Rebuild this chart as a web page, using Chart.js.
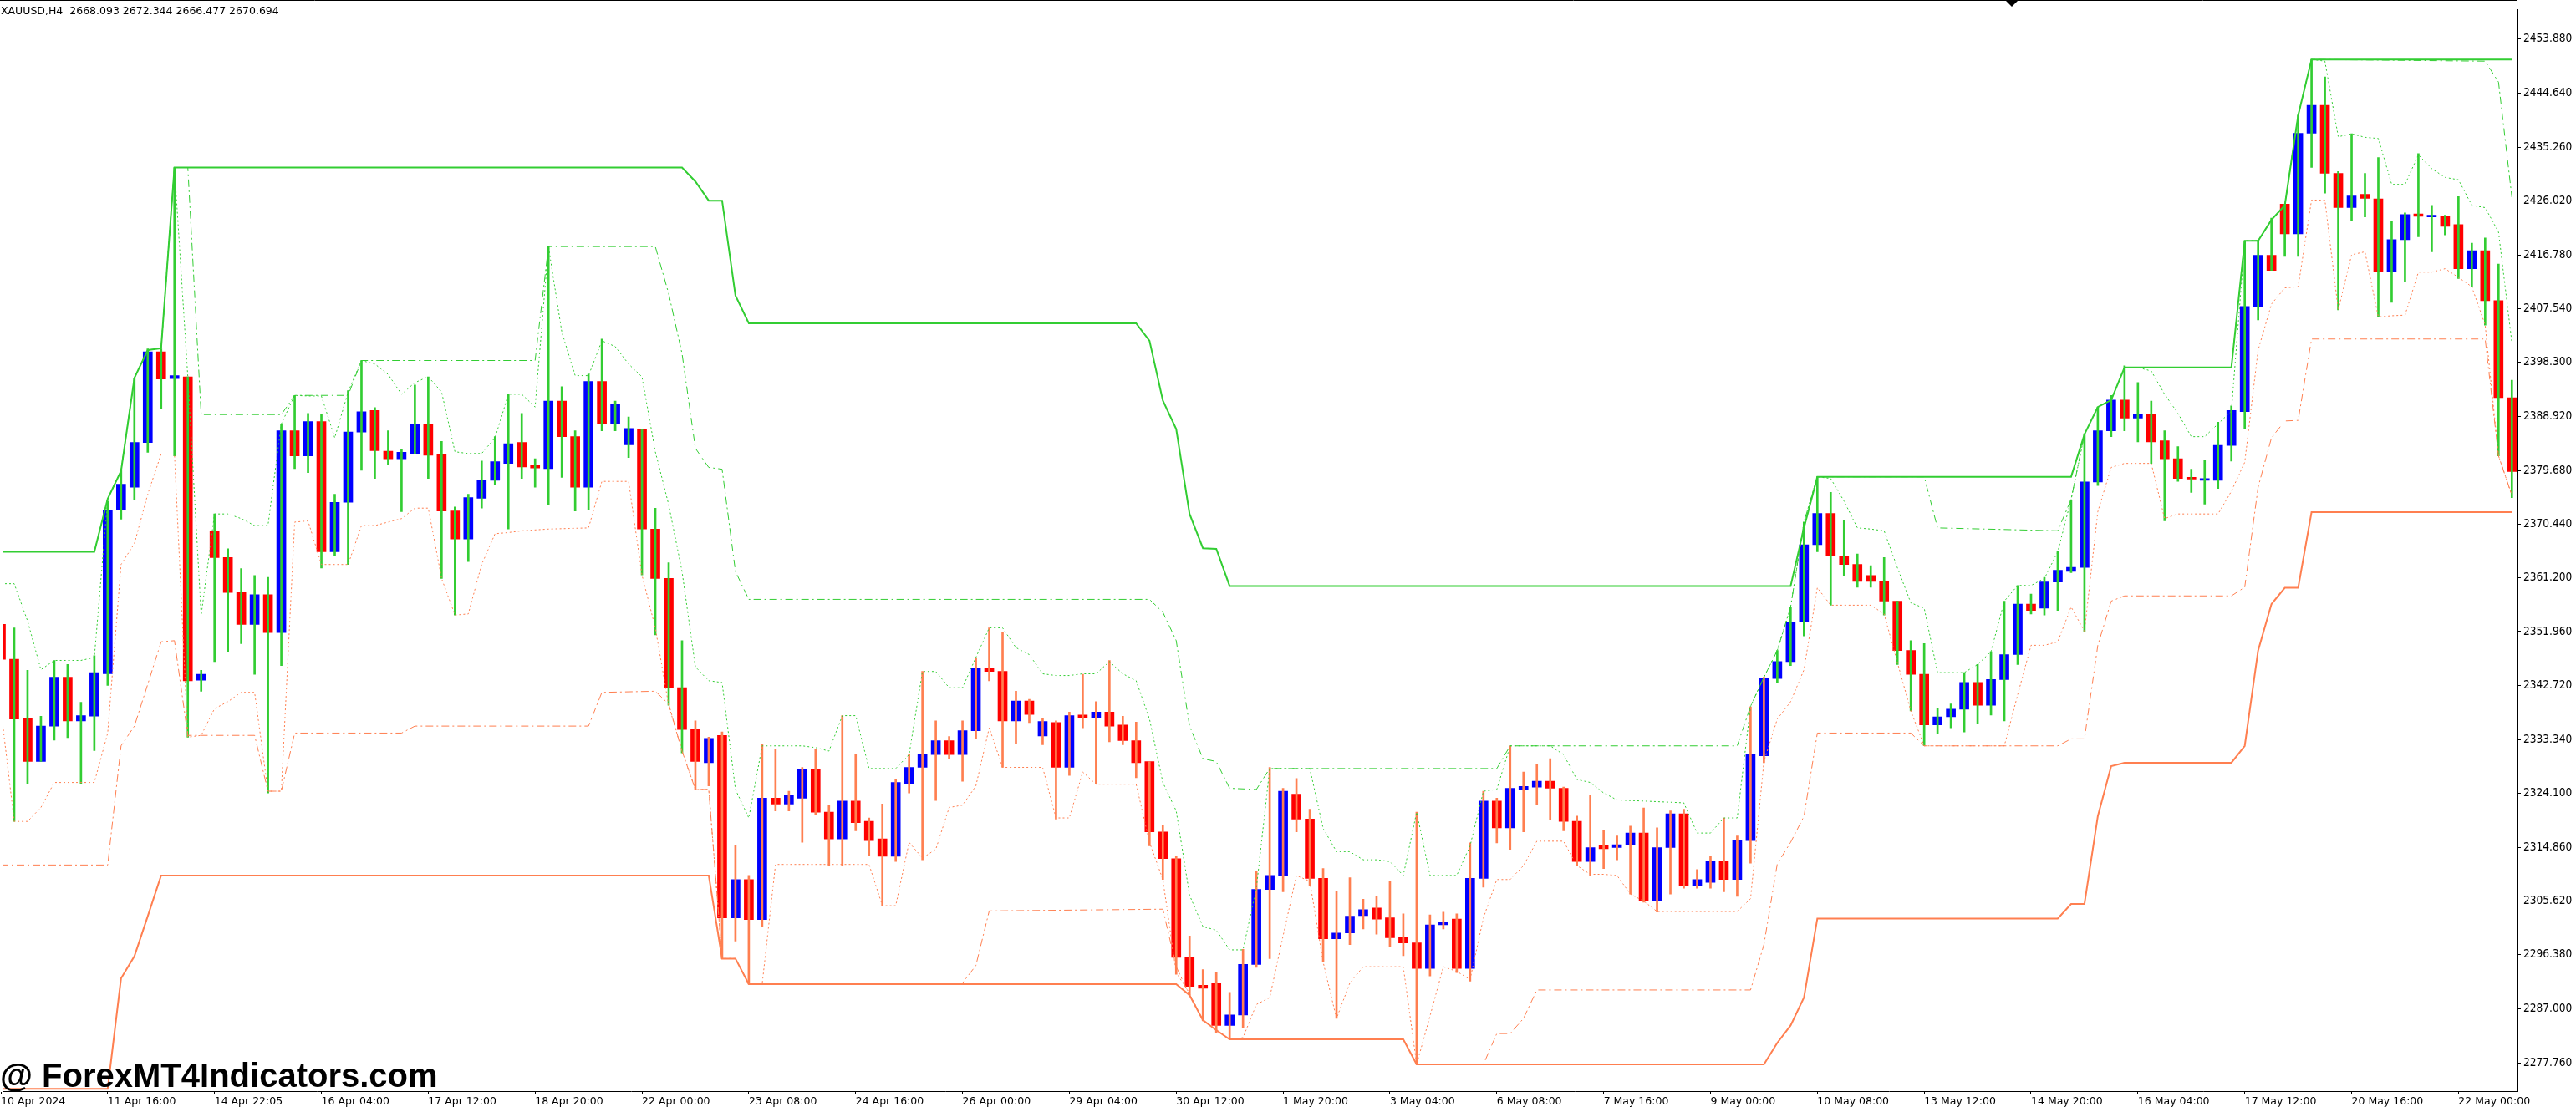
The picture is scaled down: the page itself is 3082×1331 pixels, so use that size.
<!DOCTYPE html>
<html>
<head>
<meta charset="utf-8">
<title>XAUUSD,H4</title>
<script src="https://cdn.jsdelivr.net/npm/chart.js@4.4.1/dist/chart.umd.min.js"></script>
<style>
  html, body { margin: 0; padding: 0; background: #fff; }
  #wrap { position: relative; width: 3082px; height: 1331px; }
</style>
</head>
<body>
<div id="wrap"><canvas id="chart"></canvas></div>
<script>
// candles, one per H4 bar (bar 0 = 10 Apr 08:00)
const opens = [
  2353.2,2347.2,2337.1,2329.6,2335.7,2344.1,2336.6,2337.4,2344.7,2372.9,
  2376.8,2384.5,2400.1,2395.5,2395.8,2343.6,2369.3,2364.7,2358.7,2353.2,
  2358.3,2351.8,2386.5,2382.2,2388.1,2365.7,2374.2,2386.3,2390.0,2383.0,
  2381.7,2382.5,2387.6,2382.4,2372.7,2367.9,2374.9,2378.0,2380.9,2384.5,
  2380.5,2380.0,2391.6,2385.5,2376.8,2395.0,2387.7,2384.1,2386.8,2369.6,
  2361.1,2342.3,2335.1,2329.4,2334.1,2302.7,2309.3,2302.4,2323.3,2322.3,
  2323.3,2328.2,2320.9,2316.3,2322.8,2319.3,2316.3,2313.3,2325.7,2328.6,
  2330.8,2333.2,2330.8,2334.9,2345.7,2345.1,2336.6,2340.0,2334.0,2336.3,
  2328.6,2337.6,2337.2,2338.1,2335.9,2333.2,2329.6,2317.5,2312.9,2295.9,
  2291.1,2291.5,2284.2,2286.0,2294.7,2307.6,2310.0,2324.0,2319.7,2309.5,
  2299.1,2300.1,2303.1,2304.4,2302.7,2299.3,2298.4,2294.0,2301.5,2302.5,
  2294.0,2309.5,2322.8,2318.2,2324.7,2325.2,2326.2,2325.0,2319.3,2312.4,
  2315.1,2314.8,2315.3,2317.3,2305.6,2314.8,2320.6,2308.3,2308.8,2312.4,
  2309.3,2316.0,2330.6,2343.9,2346.8,2353.6,2366.9,2372.3,2365.0,2363.5,
  2361.6,2360.6,2357.2,2348.7,2344.6,2335.9,2337.3,2338.6,2343.2,2339.3,
  2343.7,2348.0,2356.7,2356.0,2360.5,2362.3,2363.0,2377.7,2386.5,2391.8,
  2388.7,2389.4,2384.8,2381.7,2378.5,2378.0,2378.0,2384.0,2389.8,2407.9,
  2416.7,2425.5,2420.4,2437.7,2442.5,2430.8,2424.9,2427.2,2426.4,2413.8,
  2419.4,2423.8,2423.3,2423.4,2422.0,2414.4,2417.5,2408.9,2392.2
];
const highs = [
  2355.5,2352.6,2345.3,2337.4,2347.0,2346.3,2339.8,2347.8,2374.4,2379.7,
  2395.6,2400.6,2400.6,2431.8,2395.8,2345.3,2372.2,2366.2,2362.8,2361.6,
  2361.3,2387.7,2392.6,2389.5,2389.3,2375.6,2393.4,2398.6,2390.5,2386.5,
  2383.4,2394.4,2395.8,2384.7,2373.4,2375.6,2381.3,2385.5,2392.8,2389.5,
  2381.7,2418.2,2394.1,2386.5,2396.2,2402.3,2391.6,2388.9,2386.8,2373.2,
  2363.8,2350.4,2336.6,2333.8,2334.7,2315.1,2310.0,2332.5,2331.8,2324.5,
  2328.6,2331.8,2322.1,2337.5,2330.8,2319.9,2322.3,2326.5,2330.8,2345.1,
  2336.6,2333.9,2336.6,2347.5,2352.6,2351.9,2341.7,2340.3,2337.1,2336.6,
  2338.1,2344.6,2339.9,2347.0,2337.4,2336.4,2329.6,2318.7,2313.3,2299.6,
  2293.8,2293.3,2289.9,2297.3,2310.7,2328.6,2325.0,2326.7,2321.4,2311.2,
  2307.2,2309.6,2305.9,2306.4,2309.0,2303.4,2320.9,2303.2,2303.7,2303.4,
  2315.6,2324.5,2323.3,2332.3,2327.8,2329.1,2330.1,2325.2,2320.2,2323.8,
  2317.7,2316.8,2318.5,2321.6,2318.2,2321.1,2321.4,2311.0,2313.3,2319.9,
  2316.8,2339.0,2344.1,2348.7,2356.2,2370.8,2378.6,2375.9,2371.1,2365.3,
  2363.3,2364.7,2357.2,2350.4,2349.9,2338.8,2339.5,2344.9,2346.3,2348.5,
  2357.2,2359.9,2358.4,2361.3,2365.7,2374.6,2386.0,2390.6,2392.6,2397.7,
  2394.8,2391.6,2386.5,2383.8,2379.9,2381.4,2388.0,2390.8,2419.2,2419.2,
  2423.1,2425.5,2440.8,2450.4,2447.4,2431.1,2437.6,2430.8,2433.5,2422.5,
  2424.0,2434.2,2425.3,2423.6,2426.8,2418.8,2419.7,2415.2,2395.2
];
const lows = [
  2344.0,2319.3,2325.7,2329.6,2333.3,2333.7,2325.7,2331.5,2342.7,2371.3,
  2374.7,2382.8,2390.4,2382.2,2333.8,2341.7,2346.8,2348.4,2349.9,2344.6,
  2324.2,2346.1,2380.0,2379.3,2362.9,2365.0,2363.5,2379.7,2378.3,2380.7,
  2372.6,2382.5,2378.3,2361.1,2354.8,2364.0,2373.2,2377.3,2369.6,2378.3,
  2376.8,2373.7,2378.5,2372.7,2372.9,2386.5,2386.5,2381.9,2361.7,2351.4,
  2339.3,2331.1,2324.8,2325.4,2295.7,2298.7,2291.3,2301.2,2321.1,2321.1,
  2315.7,2320.5,2311.7,2311.7,2317.7,2313.5,2304.7,2312.4,2324.2,2312.7,
  2322.9,2330.1,2326.2,2333.5,2343.5,2328.6,2332.6,2336.3,2332.5,2319.7,
  2327.2,2335.4,2325.7,2333.0,2332.5,2326.8,2315.1,2309.3,2293.0,2289.4,
  2285.0,2283.0,2281.8,2283.8,2294.2,2295.7,2307.2,2317.5,2308.3,2295.1,
  2285.4,2298.1,2300.8,2299.9,2297.8,2296.2,2277.5,2292.7,2300.8,2293.3,
  2291.8,2308.0,2315.6,2314.5,2317.5,2322.1,2319.6,2317.7,2311.7,2310.0,
  2311.2,2312.7,2306.8,2305.4,2303.7,2306.8,2307.8,2307.8,2307.8,2307.2,
  2306.4,2312.1,2329.4,2343.2,2346.1,2351.2,2365.7,2356.5,2361.6,2359.6,
  2359.6,2354.8,2346.3,2338.3,2332.3,2334.4,2335.4,2334.7,2336.1,2337.6,
  2336.6,2346.3,2355.0,2354.8,2355.6,2362.1,2351.9,2377.1,2385.5,2386.5,
  2384.6,2380.9,2371.0,2377.8,2375.9,2373.9,2376.6,2381.3,2386.8,2405.6,
  2414.1,2416.5,2416.5,2431.8,2427.4,2407.3,2422.6,2423.3,2406.1,2408.6,
  2412.2,2419.9,2417.3,2420.2,2412.7,2411.3,2404.7,2382.2,2375.0
];
const closes = [
  2347.2,2336.9,2329.6,2335.7,2344.1,2336.6,2337.5,2344.9,2372.9,2377.3,
  2384.5,2400.1,2395.4,2396.0,2343.5,2344.6,2364.7,2358.7,2353.2,2358.3,
  2351.8,2386.5,2382.2,2388.1,2365.7,2374.2,2386.3,2389.8,2383.1,2381.7,
  2382.8,2387.6,2382.3,2372.7,2367.9,2375.0,2378.0,2381.2,2384.3,2380.3,
  2380.1,2391.6,2385.5,2376.8,2395.0,2387.7,2391.0,2386.9,2369.6,2361.1,
  2342.3,2335.1,2329.6,2333.6,2302.7,2309.3,2302.4,2323.3,2322.3,2323.8,
  2328.2,2320.9,2316.3,2322.8,2319.1,2316.0,2313.3,2326.0,2328.6,2330.8,
  2333.2,2330.8,2334.9,2345.7,2345.1,2336.6,2340.0,2337.7,2336.5,2328.6,
  2337.5,2337.1,2338.1,2335.7,2333.2,2329.4,2317.5,2312.9,2295.9,2290.9,
  2290.6,2284.2,2286.0,2294.7,2307.6,2310.0,2324.5,2319.7,2309.5,2299.1,
  2300.1,2303.0,2304.1,2302.5,2299.3,2298.4,2294.0,2301.5,2302.0,2294.0,
  2309.5,2322.8,2318.2,2325.0,2325.3,2326.2,2325.0,2319.3,2312.4,2314.8,
  2314.6,2315.3,2317.3,2305.6,2314.8,2320.6,2308.3,2309.3,2312.4,2309.3,
  2316.0,2330.8,2343.9,2346.8,2353.6,2366.9,2372.3,2365.0,2363.5,2360.6,
  2360.6,2357.2,2348.7,2344.6,2335.9,2337.3,2338.6,2343.2,2339.3,2343.7,
  2348.0,2356.7,2355.6,2360.5,2362.5,2363.0,2377.7,2386.5,2391.8,2388.7,
  2389.4,2384.6,2381.7,2378.3,2378.2,2378.3,2384.0,2390.0,2407.9,2416.7,
  2414.1,2420.4,2437.7,2442.5,2430.8,2424.9,2426.9,2426.5,2413.8,2419.4,
  2423.7,2423.4,2423.6,2421.7,2414.4,2417.5,2408.9,2392.2,2379.5
];

// bars whose shadows are drawn in the "bear" colour
const bearShadowBars = [52, 132];

// channel lines: [bar, price] vertices
const hiLong = [[0,2365.7],[7,2365.7],[8,2374.8],[9,2379.6],[10,2395.6],[11,2400.4],[12,2400.7],[13,2431.8],[51,2431.8],[52,2429.4],[53,2426.1],[54,2426.1],[55,2409.8],[56,2405.0],[85,2405.0],[86,2402.0],[87,2391.7],[88,2386.8],[89,2372.2],[90,2366.3],[91,2366.2],[92,2359.8],[134,2359.8],[135,2369.8],[136,2378.6],[155,2378.6],[156,2385.9],[157,2390.6],[158,2391.8],[159,2397.4],[167,2397.4],[168,2419.2],[169,2419.2],[170,2422.8],[171,2425.3],[172,2440.8],[173,2450.4],[188,2450.4]];
const hiMid = [[0,2365.7],[7,2365.7],[8,2374.8],[9,2379.6],[10,2395.6],[11,2400.4],[12,2400.7],[13,2431.8],[14,2431.8],[15,2389.3],[21,2389.3],[22,2392.6],[26,2392.6],[27,2398.6],[40,2398.6],[41,2418.2],[49,2418.2],[50,2410.1],[51,2399.8],[52,2383.5],[53,2380.2],[54,2379.9],[55,2362.3],[56,2357.5],[86,2357.5],[87,2355.3],[88,2350.4],[89,2335.7],[90,2330.1],[91,2329.6],[92,2325.0],[94,2324.8],[95,2328.4],[112,2328.4],[113,2332.3],[130,2332.3],[131,2339.1],[132,2344.1],[133,2348.7],[134,2356.2],[135,2370.8],[136,2378.6],[144,2378.6],[145,2369.8],[154,2369.3],[155,2374.7],[156,2385.9],[157,2390.6],[158,2391.8],[159,2397.4],[167,2397.4],[168,2419.2],[169,2419.2],[170,2422.8],[171,2425.3],[172,2440.8],[173,2450.4],[186,2450.1],[187,2446.5],[188,2426.7]];
const hiShort = [[0,2360.2],[1,2360.2],[2,2353.8],[3,2345.4],[4,2347.0],[6,2347.0],[7,2347.5],[8,2374.8],[9,2379.6],[10,2395.6],[11,2400.4],[12,2400.7],[13,2431.8],[14,2395.8],[15,2354.8],[16,2372.2],[17,2372.2],[18,2371.4],[19,2370.2],[20,2370.2],[21,2387.7],[22,2392.6],[23,2392.5],[24,2392.5],[25,2385.3],[26,2393.2],[27,2398.6],[28,2398.0],[29,2396.2],[30,2392.8],[31,2394.8],[32,2395.8],[33,2393.2],[34,2382.9],[35,2382.6],[36,2382.6],[37,2385.3],[38,2392.8],[39,2392.8],[40,2390.6],[41,2418.2],[42,2403.5],[43,2396.0],[44,2396.0],[45,2402.0],[46,2401.0],[47,2398.0],[48,2395.8],[49,2382.9],[50,2373.8],[51,2362.3],[52,2345.9],[53,2343.5],[54,2343.2],[55,2324.8],[56,2319.9],[57,2332.3],[60,2332.3],[61,2332.0],[62,2331.4],[63,2337.5],[64,2337.5],[65,2328.4],[67,2328.4],[68,2330.8],[69,2345.1],[70,2345.1],[71,2342.3],[72,2342.3],[73,2347.5],[74,2352.6],[75,2352.6],[76,2349.2],[77,2348.0],[78,2344.7],[79,2344.4],[80,2344.4],[81,2344.7],[82,2344.7],[83,2346.8],[84,2344.7],[85,2343.5],[86,2336.9],[87,2326.0],[88,2321.1],[89,2306.6],[90,2301.2],[91,2300.6],[92,2297.2],[93,2297.2],[94,2307.8],[95,2328.4],[98,2328.4],[99,2318.1],[100,2314.1],[101,2314.1],[102,2312.7],[103,2312.7],[104,2312.4],[105,2310.0],[106,2320.9],[107,2310.0],[109,2310.0],[110,2315.1],[111,2324.5],[112,2324.8],[113,2332.3],[116,2332.3],[117,2330.8],[118,2326.5],[119,2326.0],[120,2324.2],[121,2323.0],[126,2322.5],[127,2317.3],[128,2317.3],[129,2319.9],[130,2319.9],[131,2339.1],[132,2344.1],[133,2348.7],[134,2356.2],[135,2370.8],[136,2378.6],[137,2378.3],[138,2374.4],[139,2369.8],[140,2369.6],[141,2369.3],[142,2362.9],[143,2356.9],[144,2356.0],[145,2344.9],[147,2344.9],[148,2346.3],[149,2348.5],[150,2357.2],[151,2359.9],[152,2359.9],[153,2361.1],[154,2365.7],[155,2374.7],[156,2385.9],[157,2390.6],[158,2391.8],[159,2397.4],[160,2397.4],[161,2396.8],[162,2392.8],[163,2389.5],[164,2385.5],[165,2385.5],[166,2387.7],[167,2389.9],[168,2419.2],[169,2419.2],[170,2422.8],[171,2425.3],[172,2440.8],[173,2450.4],[174,2450.1],[175,2437.1],[176,2437.6],[177,2437.0],[178,2436.8],[179,2428.9],[180,2428.9],[181,2434.0],[182,2431.6],[183,2430.1],[184,2429.7],[185,2425.3],[186,2424.9],[187,2420.7],[188,2401.7]];
const loLong = [[0,2273.3],[8,2273.3],[9,2292.3],[10,2296.1],[11,2303.0],[12,2310.0],[53,2310.0],[54,2295.7],[55,2295.7],[56,2291.3],[88,2291.3],[89,2289.4],[90,2285.1],[91,2283.4],[92,2281.8],[105,2281.8],[106,2277.5],[132,2277.5],[133,2281.2],[134,2284.2],[135,2289.0],[136,2302.6],[154,2302.6],[155,2305.1],[156,2305.1],[157,2320.2],[158,2328.8],[159,2329.4],[167,2329.4],[168,2332.3],[169,2348.7],[170,2356.7],[171,2359.5],[172,2359.5],[173,2372.5],[188,2372.5]];
const loMid = [[0,2311.8],[8,2311.8],[9,2332.3],[10,2335.7],[11,2342.9],[12,2350.2],[13,2350.4],[14,2334.1],[19,2334.1],[20,2324.5],[21,2324.5],[22,2334.5],[30,2334.5],[31,2335.7],[44,2335.7],[45,2341.5],[49,2341.7],[50,2339.5],[51,2331.4],[52,2324.8],[53,2324.8],[54,2295.7],[55,2295.7],[56,2291.3],[71,2291.3],[72,2291.5],[73,2294.5],[74,2303.9],[87,2304.2],[88,2294.3],[89,2289.4],[90,2285.1],[91,2283.4],[92,2281.8],[105,2281.8],[106,2277.5],[111,2277.5],[112,2282.8],[113,2282.8],[114,2285.4],[115,2290.3],[131,2290.3],[132,2298.1],[133,2312.0],[134,2315.7],[135,2320.2],[136,2334.5],[143,2334.5],[144,2332.3],[154,2332.3],[155,2333.5],[156,2333.5],[157,2349.6],[158,2357.2],[159,2358.1],[167,2358.1],[168,2359.6],[169,2376.8],[170,2385.3],[171,2388.2],[172,2388.3],[173,2402.3],[186,2402.3],[187,2382.2],[188,2375.4]];
const loShort = [[0,2338.7],[1,2319.3],[2,2319.3],[3,2321.7],[4,2326.0],[7,2326.0],[8,2334.5],[9,2363.5],[10,2367.1],[11,2375.6],[12,2382.5],[13,2382.5],[14,2333.8],[15,2334.1],[16,2338.7],[17,2339.9],[18,2341.5],[19,2341.5],[20,2324.5],[21,2324.5],[22,2370.8],[23,2371.0],[24,2363.5],[26,2363.5],[27,2370.2],[28,2370.2],[29,2370.8],[30,2371.4],[31,2373.2],[32,2373.2],[33,2361.1],[34,2354.8],[35,2355.0],[36,2363.5],[37,2368.8],[38,2369.0],[39,2369.3],[41,2369.6],[44,2369.8],[45,2377.8],[47,2377.8],[48,2361.7],[49,2352.6],[50,2339.3],[51,2331.4],[52,2324.8],[53,2324.8],[54,2295.7],[55,2295.7],[56,2291.3],[57,2291.3],[58,2311.9],[65,2311.9],[66,2304.8],[67,2304.8],[68,2315.7],[69,2313.0],[70,2314.5],[71,2321.7],[72,2322.1],[73,2325.4],[74,2335.4],[75,2328.6],[78,2328.6],[79,2319.9],[80,2319.9],[81,2327.8],[82,2325.7],[85,2325.7],[86,2315.7],[87,2309.3],[88,2293.3],[89,2289.7],[90,2285.1],[91,2283.4],[92,2281.8],[93,2282.1],[94,2287.8],[95,2289.0],[96,2299.6],[97,2310.0],[98,2309.0],[99,2295.1],[100,2285.4],[101,2291.5],[102,2294.3],[105,2294.3],[106,2277.5],[107,2285.8],[108,2294.3],[109,2293.5],[110,2292.1],[111,2302.7],[112,2309.3],[113,2309.3],[114,2311.7],[115,2315.9],[117,2315.9],[118,2311.7],[119,2310.2],[120,2310.2],[121,2310.0],[122,2306.8],[123,2305.6],[124,2303.8],[130,2303.8],[131,2306.0],[132,2329.6],[133,2336.9],[134,2339.9],[135,2345.4],[136,2359.5],[137,2356.5],[140,2356.5],[141,2355.0],[142,2346.6],[143,2338.3],[144,2332.3],[150,2332.3],[151,2341.1],[152,2349.6],[153,2349.6],[154,2350.2],[155,2356.2],[156,2352.0],[157,2372.6],[158,2380.2],[159,2380.9],[161,2380.9],[162,2371.4],[163,2372.2],[166,2372.2],[167,2376.1],[168,2381.1],[169,2400.4],[170,2408.3],[171,2411.1],[172,2411.3],[173,2426.2],[174,2426.2],[175,2407.3],[176,2416.8],[177,2417.3],[178,2406.1],[179,2406.3],[180,2406.4],[181,2413.8],[182,2413.8],[183,2414.4],[184,2412.9],[185,2411.3],[186,2404.7],[187,2382.2],[188,2375.4]];

// axis labels
const timeTickBars = [0,8,16,24,32,40,48,56,64,72,80,88,96,104,112,120,128,136,144,152,160,168,176,184];
const timeLabels = ['10 Apr 2024','11 Apr 16:00','14 Apr 22:05','16 Apr 04:00','17 Apr 12:00','18 Apr 20:00',
  '22 Apr 00:00','23 Apr 08:00','24 Apr 16:00','26 Apr 00:00','29 Apr 04:00','30 Apr 12:00',
  '1 May 20:00','3 May 04:00','6 May 08:00','7 May 16:00','9 May 00:00','10 May 08:00',
  '13 May 12:00','14 May 20:00','16 May 04:00','17 May 12:00','20 May 16:00','22 May 00:00'];
const priceTicks = [2453.88,2444.64,2435.26,2426.02,2416.78,2407.54,2398.30,2388.92,2379.68,2370.44,
  2361.20,2351.96,2342.72,2333.34,2324.10,2314.86,2305.62,2296.38,2287.00,2277.76];

const headerText = 'XAUUSD,H4  2668.093 2672.344 2666.477 2670.694';
const watermarkText = '@ ForexMT4Indicators.com';

const GREEN = '#32CD32';
const CORAL = '#FF7F50';
const BULL = '#0000FF';
const BEAR = '#FF0000';

Chart.defaults.font.family = '"DejaVu Sans", Verdana, sans-serif';
Chart.defaults.color = '#000';

const bars = opens.map((_, i) => i);

function lineSet(points, color, width, dash) {
  return {
    type: 'line',
    data: points.map(p => ({ x: p[0], y: p[1] })),
    borderColor: color,
    borderWidth: width,
    borderDash: dash,
    pointRadius: 0,
    pointHoverRadius: 0,
    tension: 0,
    fill: false,
    order: 0
  };
}

const overlay = {
  id: 'overlay',
  afterDraw(chart) {
    const { ctx, chartArea } = chart;
    ctx.save();
    // top frame line
    ctx.strokeStyle = '#000';
    ctx.lineWidth = 1;
    ctx.beginPath();
    ctx.moveTo(0, 0.5);
    ctx.lineTo(chartArea.right, 0.5);
    ctx.stroke();
    // symbol line
    ctx.fillStyle = '#000';
    ctx.font = '12.5px "DejaVu Sans"';
    ctx.textBaseline = 'alphabetic';
    ctx.textAlign = 'left';
    ctx.fillText(headerText, 1, 17);
    // chart shift marker
    const sx = chartArea.right - 605;
    ctx.beginPath();
    ctx.moveTo(sx - 7, 1);
    ctx.lineTo(sx + 7, 1);
    ctx.lineTo(sx, 8);
    ctx.closePath();
    ctx.fill();
    // watermark
    ctx.font = 'bold 40px "Liberation Sans", Arial, sans-serif';
    ctx.fillText(watermarkText, 0, chartArea.bottom - 5);
    ctx.restore();
  }
};

new Chart(document.getElementById('chart'), {
  type: 'bar',
  data: {
    datasets: [
      lineSet(hiLong, GREEN, 2, []),
      lineSet(hiMid, GREEN, 1, [9, 4, 2, 4]),
      lineSet(hiShort, GREEN, 1, [2, 3]),
      lineSet(loLong, CORAL, 2, []),
      lineSet(loMid, CORAL, 1, [9, 4, 2, 4]),
      lineSet(loShort, CORAL, 1, [2, 3]),
      {
        // shadows
        type: 'bar',
        data: bars.map(i => ({ x: i, y: [lows[i], highs[i]] })),
        backgroundColor: bars.map(i => (i >= bearShadowBars[0] && i <= bearShadowBars[1]) ? CORAL : GREEN),
        barThickness: 2,
        grouped: false,
        borderWidth: 0,
        order: 1
      },
      {
        // bodies
        type: 'bar',
        data: bars.map(i => ({ x: i, y: [opens[i], closes[i]] })),
        backgroundColor: bars.map(i => closes[i] >= opens[i] ? BULL : BEAR),
        barThickness: 11,
        minBarLength: 2,
        grouped: false,
        borderWidth: 0,
        order: 2
      }
    ]
  },
  options: {
    responsive: true,
    maintainAspectRatio: false,
    animation: false,
    devicePixelRatio: 1,
    events: [],
    layout: { padding: { top: 1, left: 0, right: 0, bottom: 0 } },
    plugins: {
      legend: { display: false },
      tooltip: { enabled: false }
    },
    scales: {
      x: {
        type: 'linear',
        position: 'bottom',
        min: 0.169,
        max: 188.42,
        offset: false,
        afterBuildTicks: scale => { scale.ticks = timeTickBars.map(v => ({ value: v })); },
        afterFit: scale => { scale.height = 25; },
        ticks: {
          autoSkip: false,
          maxRotation: 0,
          align: 'start',
          padding: 1,
          font: { size: 12.5 },
          color: '#000',
          callback: v => timeLabels[timeTickBars.indexOf(v)]
        },
        grid: { offset: false, drawOnChartArea: false, drawTicks: true, tickLength: 4, color: '#000' },
        border: { display: true, color: '#000', width: 1 }
      },
      y: {
        type: 'linear',
        position: 'right',
        min: 2272.9,
        max: 2459.02,
        afterBuildTicks: scale => { scale.ticks = priceTicks.map(v => ({ value: v })); },
        afterFit: scale => { scale.width = 70; },
        ticks: {
          padding: 3,
          font: { family: '"DejaVu Sans Condensed", "DejaVu Sans", sans-serif', size: 13.6 },
          color: '#000',
          callback: v => v.toFixed(3)
        },
        grid: { drawOnChartArea: false, drawTicks: true, tickLength: 4, color: '#000' },
        border: { display: true, color: '#000', width: 1 }
      }
    }
  },
  plugins: [overlay]
});
</script>
</body>
</html>
